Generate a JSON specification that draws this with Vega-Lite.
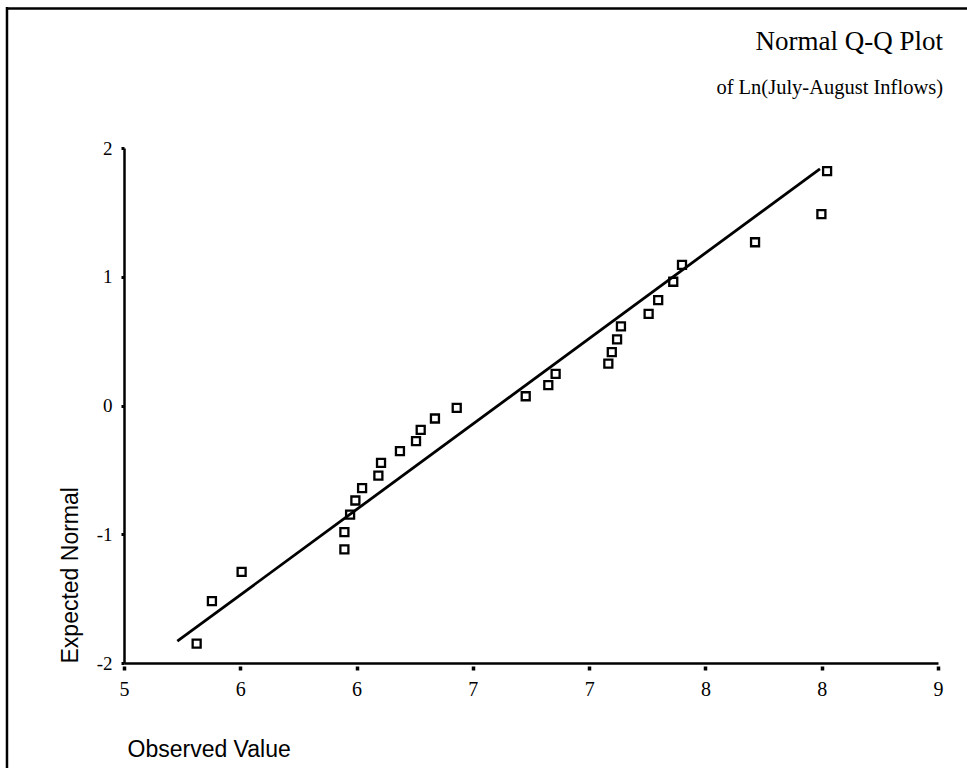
{
  "$schema": "https://vega.github.io/schema/vega-lite/v6.json",
  "width": 814,
  "height": 515,
  "autosize": {"type": "none"},
  "padding": {"left": 124, "top": 148, "right": 29, "bottom": 105},
  "background": "white",
  "config": {"view": {"stroke": null}},
  "title": {
    "text": "Normal Q-Q Plot",
    "subtitle": "of Ln(July-August Inflows)",
    "anchor": "end",
    "frame": "group",
    "font": "Liberation Serif",
    "fontSize": 27,
    "fontWeight": "normal",
    "color": "black",
    "subtitleFont": "Liberation Serif",
    "subtitleFontSize": 20.5,
    "subtitleColor": "black",
    "subtitlePadding": 22,
    "offset": -94,
    "dx": 5
  },
  "datasets": {
    "points": [
      {"observed": 5.357, "expected": -1.849},
      {"observed": 5.432, "expected": -1.520},
      {"observed": 5.578, "expected": -1.292},
      {"observed": 6.083, "expected": -1.118},
      {"observed": 6.083, "expected": -0.984},
      {"observed": 6.111, "expected": -0.847},
      {"observed": 6.137, "expected": -0.738},
      {"observed": 6.170, "expected": -0.642},
      {"observed": 6.250, "expected": -0.544},
      {"observed": 6.263, "expected": -0.445},
      {"observed": 6.356, "expected": -0.355},
      {"observed": 6.435, "expected": -0.277},
      {"observed": 6.458, "expected": -0.189},
      {"observed": 6.528, "expected": -0.101},
      {"observed": 6.635, "expected": -0.018},
      {"observed": 6.974, "expected": 0.072},
      {"observed": 7.085, "expected": 0.158},
      {"observed": 7.121, "expected": 0.246},
      {"observed": 7.380, "expected": 0.326},
      {"observed": 7.397, "expected": 0.414},
      {"observed": 7.423, "expected": 0.513},
      {"observed": 7.442, "expected": 0.614},
      {"observed": 7.578, "expected": 0.712},
      {"observed": 7.625, "expected": 0.818},
      {"observed": 7.699, "expected": 0.961},
      {"observed": 7.742, "expected": 1.093},
      {"observed": 8.101, "expected": 1.268},
      {"observed": 8.427, "expected": 1.486},
      {"observed": 8.455, "expected": 1.820}
    ],
    "fit": [
      {"observed": 5.262, "expected": -1.831},
      {"observed": 8.420, "expected": 1.838}
    ],
    "frame": [{}]
  },
  "layer": [
    {
      "data": {"name": "frame"},
      "mark": {"type": "rule", "color": "black", "strokeWidth": 2.5},
      "encoding": {
        "x": {"datum": 4.425, "type": "quantitative", "scale": {"domain": [5, 9], "nice": false, "zero": false}},
        "y": {"datum": 3.095, "type": "quantitative", "scale": {"domain": [-2, 2], "nice": false, "zero": false}},
        "y2": {"datum": -2.85}
      }
    },
    {
      "data": {"name": "frame"},
      "mark": {"type": "rule", "color": "black", "strokeWidth": 2.5},
      "encoding": {
        "x": {"datum": 4.425, "type": "quantitative", "scale": {"domain": [5, 9], "nice": false, "zero": false}},
        "x2": {"datum": 9.15},
        "y": {"datum": 3.083, "type": "quantitative", "scale": {"domain": [-2, 2], "nice": false, "zero": false}}
      }
    },
    {
      "data": {"name": "fit"},
      "mark": {"type": "line", "color": "black", "strokeWidth": 2.8},
      "encoding": {
        "x": {"field": "observed", "type": "quantitative", "scale": {"domain": [5, 9], "nice": false, "zero": false}},
        "y": {"field": "expected", "type": "quantitative", "scale": {"domain": [-2, 2], "nice": false, "zero": false}}
      }
    },
    {
      "data": {"name": "points"},
      "mark": {"type": "point", "shape": "square", "filled": false, "size": 64, "strokeWidth": 2.3, "color": "black", "opacity": 1},
      "encoding": {
        "x": {
          "field": "observed",
          "type": "quantitative",
          "scale": {"domain": [5, 9], "nice": false, "zero": false},
          "axis": {
            "title": "Observed Value",
            "values": [5, 5.5714, 6.1429, 6.7143, 7.2857, 7.8571, 8.4286, 9],
            "labelExpr": "format(round(datum.value), 'd')",
            "grid": false,
            "domainColor": "black",
            "domainWidth": 2.5,
            "tickColor": "black",
            "tickSize": 7,
            "tickWidth": 3.5,
            "tickDash": [0, 3, 4, 20],
            "labelFont": "Liberation Serif",
            "labelFontSize": 20,
            "labelColor": "black",
            "labelPadding": 9,
            "labelFlush": false,
            "labelOverlap": false,
            "titleFont": "Liberation Sans",
            "titleFontSize": 23,
            "titleFontWeight": "normal",
            "titleColor": "black",
            "titleAlign": "left",
            "titleBaseline": "alphabetic",
            "titleAngle": 0,
            "titleX": 3,
            "titleY": 93
          }
        },
        "y": {
          "field": "expected",
          "type": "quantitative",
          "scale": {"domain": [-2, 2], "nice": false, "zero": false},
          "axis": {
            "title": "Expected Normal",
            "values": [-2, -1, 0, 1, 2],
            "labelExpr": "datum.value < 0 ? '-' + abs(datum.value) : '' + datum.value",
            "grid": false,
            "domainColor": "black",
            "domainWidth": 2.5,
            "tickColor": "black",
            "tickSize": 3,
            "tickWidth": 3,
            "labelFont": "Liberation Serif",
            "labelFontSize": 19,
            "labelColor": "black",
            "labelPadding": 9,
            "labelFlush": false,
            "labelOverlap": false,
            "titleFont": "Liberation Sans",
            "titleFontSize": 23,
            "titleFontWeight": "normal",
            "titleColor": "black",
            "titleAlign": "left",
            "titleBaseline": "alphabetic",
            "titleAngle": -90,
            "titleX": -47,
            "titleY": 515
          }
        }
      }
    }
  ]
}
